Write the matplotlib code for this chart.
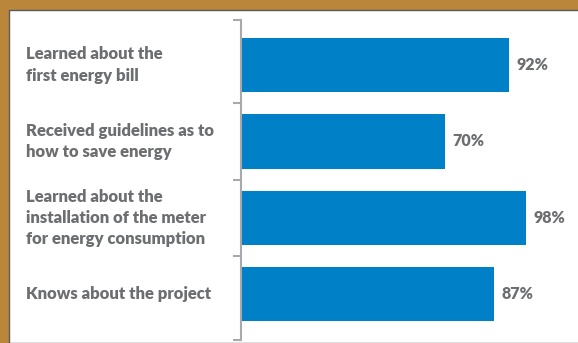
import matplotlib
matplotlib.use('Agg')
import matplotlib.pyplot as plt
import matplotlib.patches as patches

# data
labels = ['Learned about the\nfirst energy bill',
          'Received guidelines as to\nhow to save energy',
          'Learned about the\ninstallation of the meter\nfor energy consumption',
          'Knows about the project']
values = [92, 70, 98, 87]

bar_color = '#0080c6'
text_color = '#6d6e71'
axis_color = '#a7a9ac'
border_color = '#ba863c'

plt.rcParams['font.family'] = ['Lato', 'DejaVu Sans']

fig = plt.figure(figsize=(5.78, 3.43), dpi=100)
fig.patch.set_facecolor(border_color)
# white panel (the picture is cropped at right and bottom)
panel = patches.Rectangle((9 / 578, 0), 1, 1 - 10 / 343, transform=fig.transFigure,
                          facecolor='white', edgecolor='#5a5a5a', linewidth=1.0, zorder=-10)
fig.patches.append(panel)

ax = fig.add_axes([241 / 578, 3 / 343, 291 / 578, 320 / 343])
ax.set_facecolor('none')

ypos = list(range(len(values)))
ax.barh(ypos, values, height=0.71, color=bar_color, zorder=2)
ax.set_xlim(0, 100)
ytop, ybot = -0.59, len(values) - 0.4
ax.set_ylim(ybot, ytop)

for y, v in zip(ypos, values):
    ax.text(v + 2.6, y, f'{v}%', va='center', ha='left', fontsize=11.5,
            fontweight='heavy', color=text_color)

for y, lab in zip(ypos, labels):
    ax.text(-0.74, y, lab, transform=ax.get_yaxis_transform(), va='center', ha='left',
            fontsize=12, fontweight='heavy', color=text_color, linespacing=1.4)

# bracket ticks: spine ends plus the gaps between categories
ax.set_yticks([ytop] + [y + 0.5 for y in ypos[:-1]] + [ybot])
ax.set_yticklabels([])
ax.tick_params(axis='y', length=6, width=1.5, color=axis_color, direction='out')
ax.set_xticks([])
for side in ['top', 'right', 'bottom']:
    ax.spines[side].set_visible(False)
ax.spines['left'].set_color(axis_color)
ax.spines['left'].set_linewidth(1.5)

fig.savefig('out.png', dpi=100, facecolor=fig.get_facecolor())
